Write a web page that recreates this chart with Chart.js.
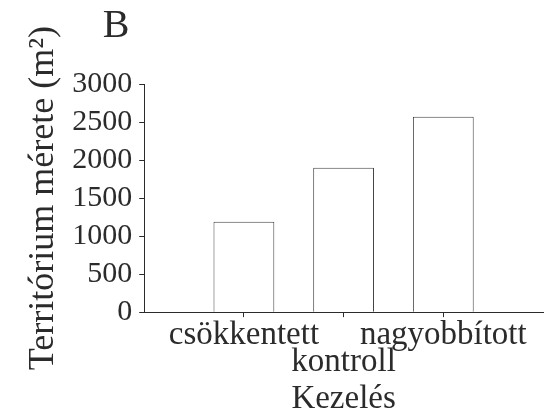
<!DOCTYPE html>
<html lang="hu">
<head>
    <meta charset="UTF-8">
    <title>Territórium mérete</title>
    <script src="https://cdn.jsdelivr.net/npm/chart.js"></script>
    <style>
        body { margin: 0; background: #fff; }
        #wrap { width: 547px; height: 412px; }
    </style>
</head>
<body>
    <div id="wrap"><canvas id="chart" width="547" height="412"></canvas></div>

    <script>
        // data
        const categories = ['csökkentett', 'kontroll', 'nagyobbított'];
        const positions = [1, 2, 3];
        const territory = [1190, 1900, 2570];
        const yTicks = [0, 500, 1000, 1500, 2000, 2500, 3000];

        const ink = '#2b2b2b';
        const serif = '"Liberation Serif", "DejaVu Serif", serif';

        // panel letter in the top left corner
        const panelLetter = {
            id: 'panelLetter',
            afterDraw(chart) {
                const ctx = chart.ctx;
                ctx.save();
                ctx.fillStyle = ink;
                ctx.font = '40px ' + serif;
                ctx.textAlign = 'center';
                ctx.textBaseline = 'alphabetic';
                ctx.fillText('B', 116, 37);
                ctx.restore();
            }
        };

        const ctx = document.getElementById('chart').getContext('2d');
        new Chart(ctx, {
            type: 'bar',
            data: {
                datasets: [{
                    data: positions.map((x, i) => ({ x: x, y: territory[i] })),
                    backgroundColor: '#ffffff',
                    borderColor: '#444',
                    borderWidth: 1,
                    borderSkipped: 'bottom',
                    barPercentage: 0.61,
                    categoryPercentage: 1
                }]
            },
            options: {
                responsive: false,
                animation: false,
                layout: { padding: { top: 84, right: 4, left: 12, bottom: 0 } },
                plugins: {
                    legend: { display: false },
                    tooltip: { enabled: false }
                },
                scales: {
                    x: {
                        type: 'linear',
                        min: 0,
                        max: 4,
                        offset: false,
                        afterBuildTicks: (axis) => {
                            axis.ticks = positions.map(v => ({ value: v }));
                        },
                        grid: { display: true, drawOnChartArea: false, drawTicks: true, tickLength: 5, color: ink, offset: false },
                        border: { display: true, color: ink, width: 1 },
                        ticks: {
                            color: ink,
                            font: { family: serif, size: 33, lineHeight: 0.82 },
                            padding: 5,
                            maxRotation: 0,
                            autoSkip: false,
                            callback: (v) => {
                                const i = positions.indexOf(v);
                                if (i < 0) return '';
                                return i === 1 ? ['', categories[i]] : categories[i];
                            }
                        },
                        title: {
                            display: true,
                            text: 'Kezelés',
                            color: ink,
                            font: { family: serif, size: 33, lineHeight: 0.75 },
                            padding: { top: 6, bottom: 0 }
                        }
                    },
                    y: {
                        min: 0,
                        max: 3000,
                        afterBuildTicks: (axis) => {
                            axis.ticks = yTicks.map(v => ({ value: v }));
                        },
                        grid: { display: true, drawOnChartArea: false, drawTicks: true, tickLength: 5, color: ink },
                        border: { display: true, color: ink, width: 1 },
                        ticks: {
                            color: ink,
                            font: { family: serif, size: 30 },
                            padding: 7,
                            autoSkip: false,
                            callback: (v) => String(v)
                        },
                        title: {
                            display: true,
                            text: 'Territórium mérete (m²)',
                            color: ink,
                            font: { family: serif, size: 36 },
                            padding: { top: 10, bottom: 0 }
                        }
                    }
                }
            },
            plugins: [panelLetter]
        });
    </script>
</body>
</html>
